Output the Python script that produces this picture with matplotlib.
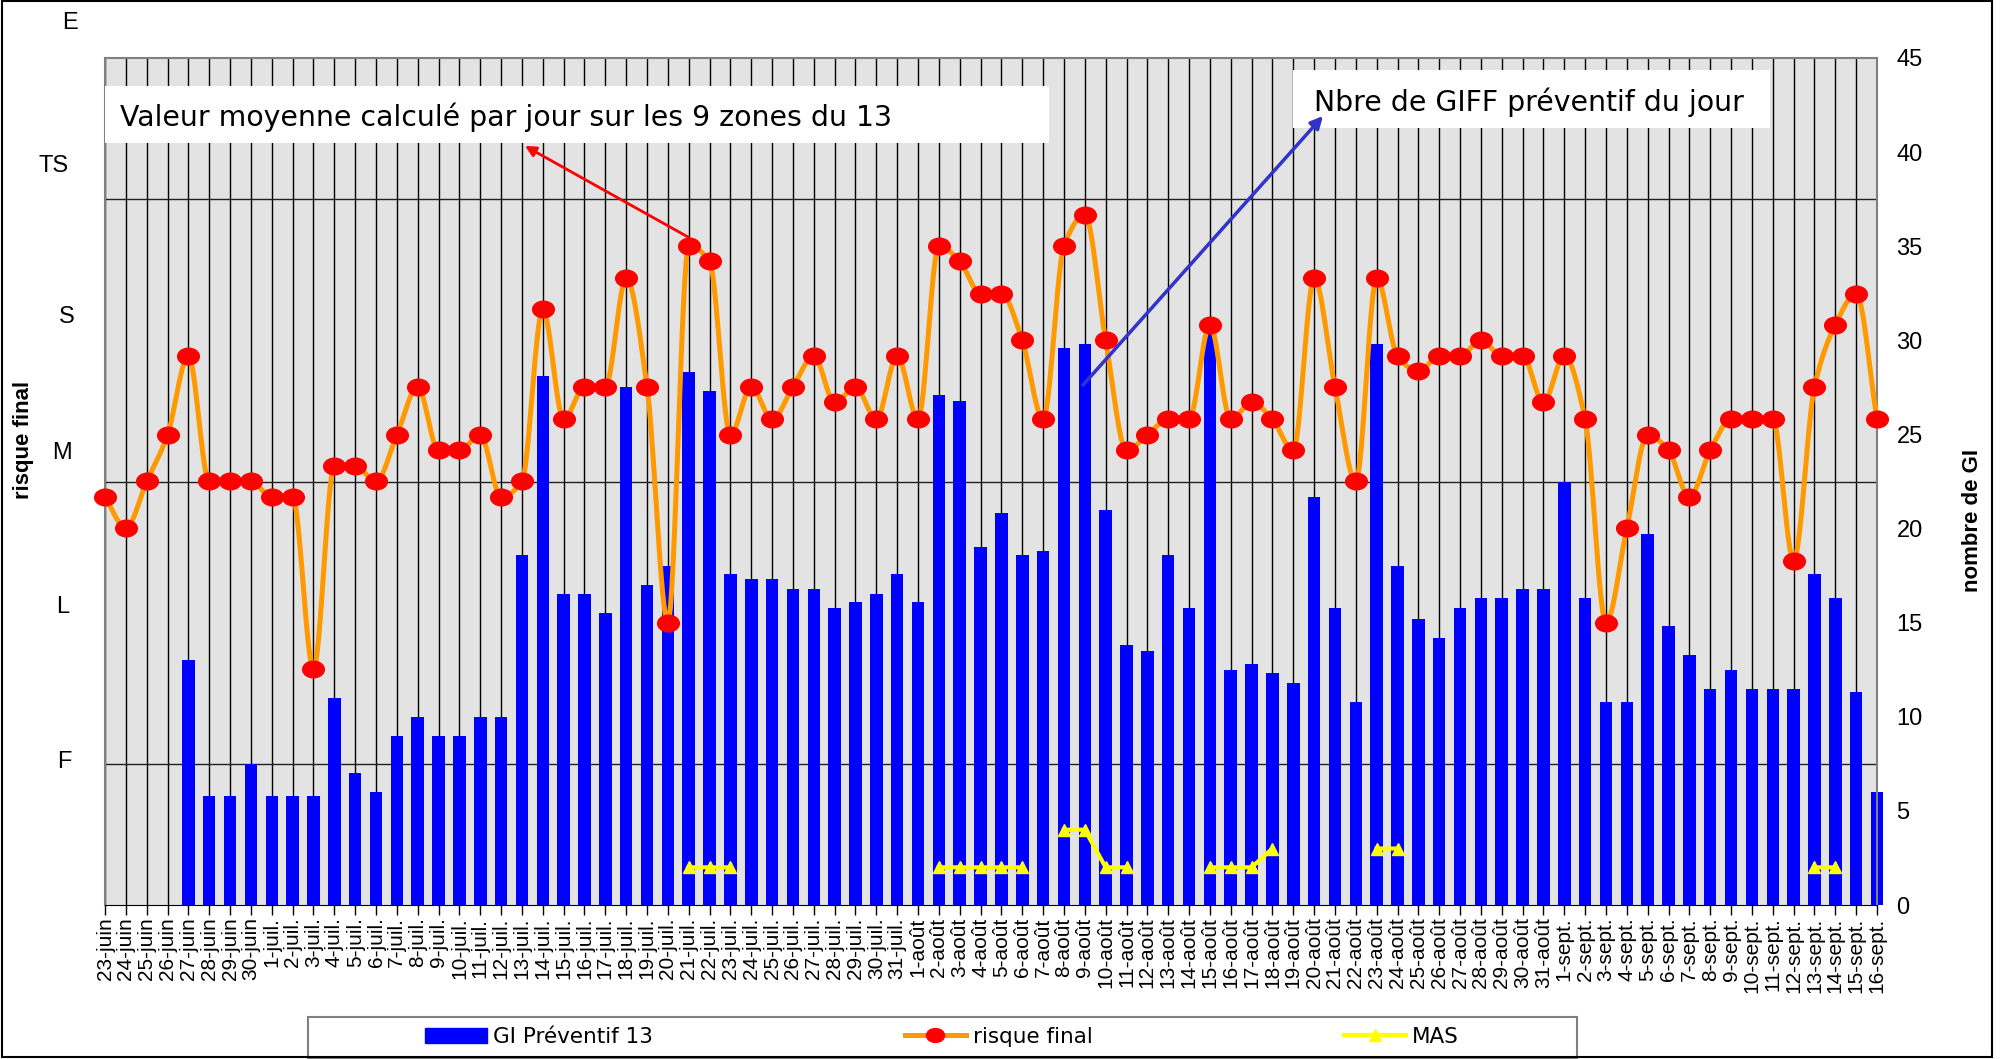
import numpy as np
import matplotlib
matplotlib.use("Agg")
import matplotlib.pyplot as plt
from matplotlib.markers import MarkerStyle
from matplotlib.transforms import Affine2D
from matplotlib.ticker import MultipleLocator
from matplotlib.patches import Rectangle, FancyArrowPatch, Patch
from matplotlib.lines import Line2D

W, H = 2002, 1059
plt.rcParams['font.family'] = ['Liberation Sans', 'DejaVu Sans']

# jours (23 juin -> 16 sept.)
jours = ([f"{d}-juin" for d in range(23, 31)]
         + [f"{d}-juil." for d in range(1, 32)]
         + [f"{d}-août" for d in range(1, 32)]
         + [f"{d}-sept." for d in range(1, 17)])

# nombre de GI préventif (axe de droite)
gi_preventif = [
    0, 0, 0, 0, 13.0, 5.8, 5.8, 7.5,
    5.8, 5.8, 5.8, 11.0, 7.0, 6.0, 9.0, 10.0, 9.0, 9.0, 10.0, 10.0, 18.6, 28.1,
    16.5, 16.5, 15.5, 27.5, 17.0, 18.0, 28.3, 27.3, 17.6, 17.3, 17.3, 16.8, 16.8,
    15.8, 16.1, 16.5, 17.6,
    16.1, 27.1, 26.8, 19.0, 20.8, 18.6, 18.8, 29.6, 29.8, 21.0, 13.8, 13.5, 18.6,
    15.8, 30.6, 12.5, 12.8, 12.3, 11.8, 21.7, 15.8, 10.8, 29.8, 18.0, 15.2, 14.2,
    15.8, 16.3, 16.3, 16.8, 16.8,
    22.5, 16.3, 10.8, 10.8, 19.7, 14.8, 13.3, 11.5, 12.5, 11.5, 11.5, 11.5, 17.6,
    16.3, 11.3, 6.0,
]

# risque final moyen sur les 9 zones (axe de gauche, 0 a 6)
risque_final = [
    2.89, 2.67, 3.0, 3.33, 3.89, 3.0, 3.0, 3.0,
    2.89, 2.89, 1.67, 3.11, 3.11, 3.0, 3.33, 3.67, 3.22, 3.22, 3.33, 2.89, 3.0, 4.22,
    3.44, 3.67, 3.67, 4.44, 3.67, 2.0, 4.67, 4.56, 3.33, 3.67, 3.44, 3.67, 3.89,
    3.56, 3.67, 3.44, 3.89,
    3.44, 4.67, 4.56, 4.33, 4.33, 4.0, 3.44, 4.67, 4.89, 4.0, 3.22, 3.33, 3.44,
    3.44, 4.11, 3.44, 3.56, 3.44, 3.22, 4.44, 3.67, 3.0, 4.44, 3.89, 3.78, 3.89,
    3.89, 4.0, 3.89, 3.89, 3.56,
    3.89, 3.44, 2.0, 2.67, 3.33, 3.22, 2.89, 3.22, 3.44, 3.44, 3.44, 2.44, 3.67,
    4.11, 4.33, 3.44,
]

# MAS (seulement les jours renseignés)
mas_jours = {
    "21-juil.": 2, "22-juil.": 2, "23-juil.": 2,
    "2-août": 2, "3-août": 2, "4-août": 2, "5-août": 2, "6-août": 2,
    "8-août": 4, "9-août": 4, "10-août": 2, "11-août": 2,
    "15-août": 2, "16-août": 2, "17-août": 2, "18-août": 3,
    "23-août": 3, "24-août": 3,
    "13-sept.": 2, "14-sept.": 2,
}
mas = [mas_jours.get(j, np.nan) for j in jours]

niveaux = ["E", "TS", "S", "M", "L", "F"]
niveaux_pos = [(70, 23), (54, 166), (67, 317), (62, 453), (63, 607), (64, 762)]


def lisse(x, y, n=16):
    # courbe lissée sans dépassement (Hermite monotone)
    x = np.asarray(x, float)
    y = np.asarray(y, float)
    d = np.diff(y) / np.diff(x)
    m = np.zeros_like(y)
    for i in range(1, len(y) - 1):
        if d[i - 1] * d[i] > 0:
            m[i] = 2 / (1 / d[i - 1] + 1 / d[i])
    m[0] = d[0]
    m[-1] = d[-1]
    t = np.linspace(0, 1, n, endpoint=False)
    h00 = 2 * t**3 - 3 * t**2 + 1
    h10 = t**3 - 2 * t**2 + t
    h01 = -2 * t**3 + 3 * t**2
    h11 = t**3 - t**2
    xs, ys = [], []
    for i in range(len(y) - 1):
        h = x[i + 1] - x[i]
        xs.append(x[i] + t * h)
        ys.append(h00 * y[i] + h10 * h * m[i] + h01 * y[i + 1] + h11 * h * m[i + 1])
    xs.append([x[-1]])
    ys.append([y[-1]])
    return np.concatenate(xs), np.concatenate(ys)


def fx(px):
    return px / W


def fy(py):
    return 1 - py / H


fig = plt.figure(figsize=(W / 100, H / 100), dpi=100)
ax = fig.add_axes([fx(105), fy(905), 1772 / W, 847 / H])
ax.set_facecolor('#E3E3E3')

x = np.arange(len(jours))
ax.bar(x, gi_preventif, width=0.6, color='#0000FF', zorder=2, clip_on=False)
ax.plot(x, mas, color='#FFFF00', lw=3, marker='^', ms=9, zorder=3)
ax.set_xlim(0, len(jours) - 1)
ax.set_ylim(0, 45)

ax_r = ax.twinx()
ax_r.set_ylim(0, 6)
ax_r.set_yticks([])
for s in ax_r.spines.values():
    s.set_visible(False)

xs, ys = lisse(x, risque_final)
ax_r.plot(xs, ys, color='#FF9900', lw=3.6, zorder=2, clip_on=False)
ellipse = MarkerStyle('o', transform=Affine2D().scale(1.3, 1.0))
ax_r.plot(x, risque_final, ls='none', marker=ellipse, ms=12,
          color='#FF0000', zorder=3, clip_on=False)

ax.yaxis.tick_right()
ax.set_yticks(range(0, 46, 5))
ax.tick_params(axis='y', which='both', length=0, pad=14, labelsize=17)
ax.yaxis.set_minor_locator(MultipleLocator(7.5))
ax.set_xticks(x)
ax.set_xticklabels(jours, rotation=90, fontsize=15)
ax.tick_params(axis='x', length=7, width=1, direction='out', pad=2)
ax.grid(axis='x', which='major', color='black', lw=1)
ax.grid(axis='y', which='minor', color='#202020', lw=1)
ax.set_axisbelow(True)
for k in ['top', 'left', 'right']:
    ax.spines[k].set_color('#808080')
    ax.spines[k].set_linewidth(1.5)
ax.spines['bottom'].set_color('black')

# niveaux de risque (axe de gauche)
for lab, (px, py) in zip(niveaux, niveaux_pos):
    fig.text(fx(px), fy(py), lab, ha='center', va='center', fontsize=17)

fig.text(fx(23), fy(440), 'risque final', rotation=90, weight='bold',
         fontsize=16, ha='center', va='center')
fig.text(fx(1972), fy(520), 'nombre de GI', rotation=90, weight='bold',
         fontsize=16, ha='center', va='center')

# encadrés de commentaires
fig.add_artist(Rectangle((fx(105), fy(143)), (1049 - 105) / W, 57 / H,
                         transform=fig.transFigure, facecolor='white',
                         edgecolor='none', zorder=4))
fig.text(fx(120), fy(126), 'Valeur moyenne calculé par jour sur les 9 zones du 13',
         family='DejaVu Sans', fontsize=20.4, va='baseline', zorder=5)
fig.add_artist(Rectangle((fx(1293), fy(128)), (1770 - 1293) / W, 58 / H,
                         transform=fig.transFigure, facecolor='white',
                         edgecolor='none', zorder=4))
fig.text(fx(1314), fy(111), 'Nbre de GIFF préventif du jour',
         family='DejaVu Sans', fontsize=20.4, va='baseline', zorder=5)

fig.add_artist(FancyArrowPatch((fx(688), fy(237)), (fx(525), fy(146)),
                               transform=fig.transFigure, arrowstyle='-|>',
                               mutation_scale=16, color='#FF0000', lw=2,
                               shrinkA=0, shrinkB=0, zorder=5))
fig.add_artist(FancyArrowPatch((fx(1083), fy(385)), (fx(1323), fy(116)),
                               transform=fig.transFigure, arrowstyle='-|>',
                               mutation_scale=18, color='#3333CC', lw=2.5,
                               shrinkA=0, shrinkB=0, zorder=5))

# légende
fig.add_artist(Rectangle((fx(308), fy(1058)), (1577 - 308) / W, 41 / H,
                         transform=fig.transFigure, facecolor='white',
                         edgecolor='#808080', lw=1.5, zorder=4))
handles = [
    Patch(facecolor='#0000FF', edgecolor='#0000FF'),
    Line2D([], [], color='#FF9900', lw=3.6, marker=ellipse, ms=10,
           mfc='#FF0000', mec='#FF0000'),
    Line2D([], [], color='#FFFF00', lw=3, marker='^', ms=9),
]
leg = fig.legend(handles, ['GI Préventif 13', 'risque final', 'MAS'],
                 loc='center', bbox_to_anchor=(fx(942), fy(1037)), ncol=3,
                 frameon=False, prop={'family': 'DejaVu Sans', 'size': 15.5},
                 handlelength=2.85, handletextpad=0.3, columnspacing=11.7)
leg.set_zorder(6)

fig.add_artist(Rectangle((fx(2), fy(1057)), 1990 / W, 1056 / H,
                         transform=fig.transFigure, fill=False,
                         edgecolor='black', lw=1.5, zorder=7))

fig.savefig('out.png', dpi=100)
